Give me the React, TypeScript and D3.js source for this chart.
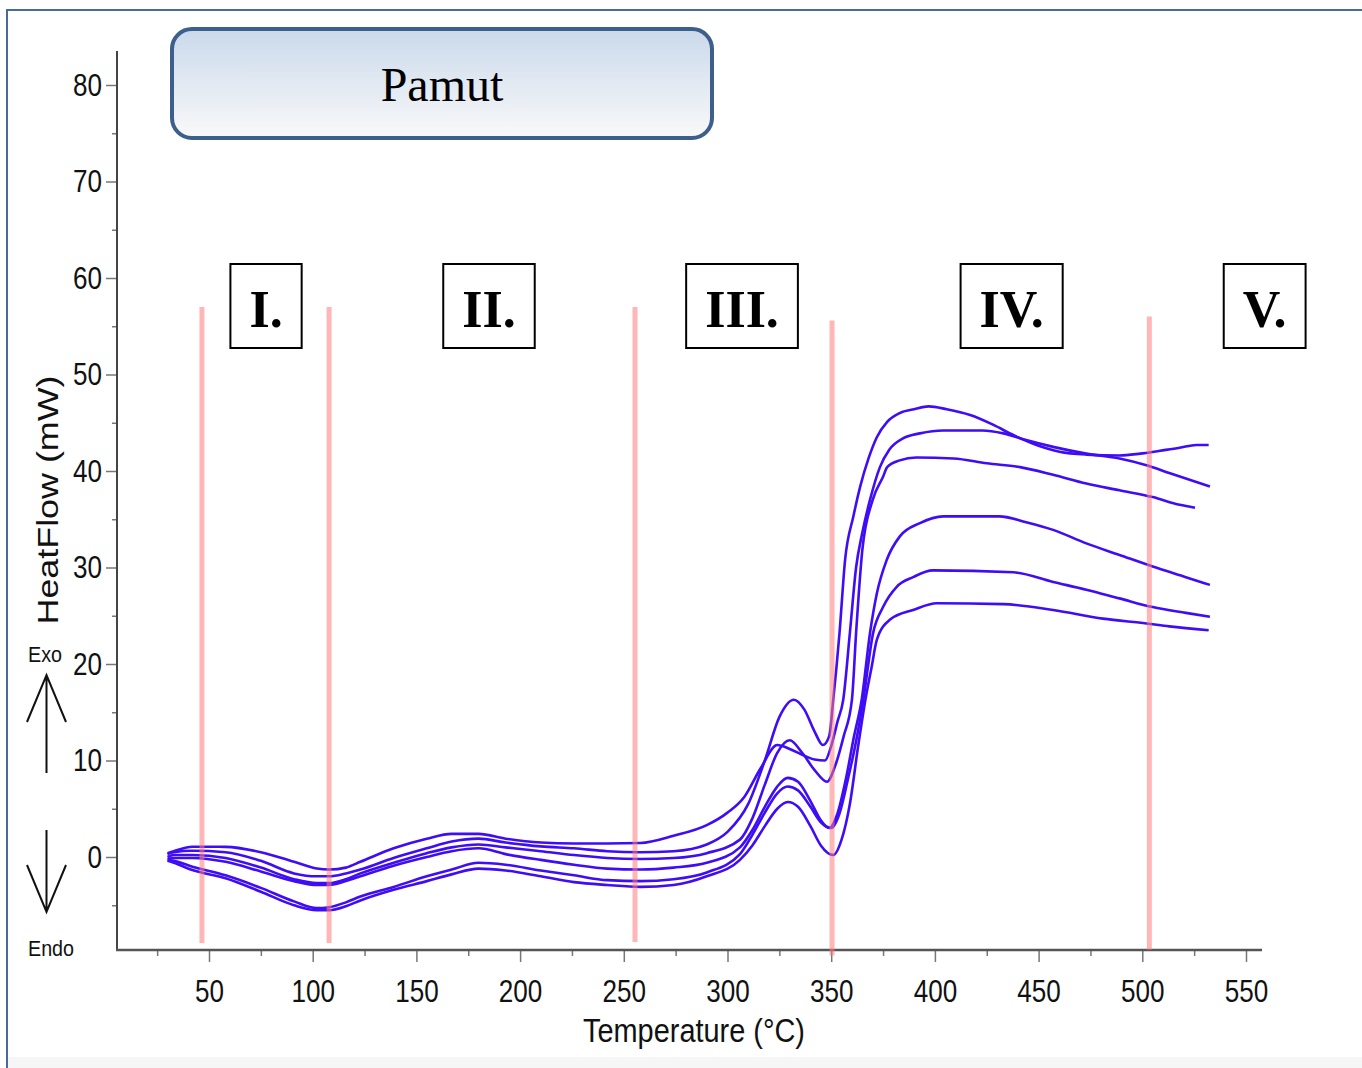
import React, { useEffect, useRef } from "react";
import * as d3 from "d3";

// DSC curves, [temperature °C, heat flow mW]
const curveA = [[30,0.3],[33,0.5],[42,0.65],[58,0.5],[75,-0.4],[91,-1.7],[102,-2.0],[108,-2.0],[116,-1.7],[123,-1.3],[139,-0.1],[155,0.9],[167,1.6],[180,1.9],[193,1.5],[210,1.1],[226,0.9],[242,0.6],[258,0.5],[274,0.6],[290,1.3],[300,2.6],[310,5.5],[318,10.0],[325,14.5],[332,16.3],[337,15.3],[342,13.0],[346,11.6],[349,12.5],[351,16.3],[354,23.2],[356.7,30.8],[360.7,35.3],[364,38.4],[368,41.3],[372,43.5],[377,45.1],[383,46.0],[390,46.4],[397,46.7],[405.7,46.4],[417,45.8],[428,44.8],[438,43.7],[449,42.7],[460,42.0],[473,41.7],[489,41.6],[499,41.8],[508.6,42.1],[518,42.4],[526,42.7],[532,42.7]];
const curveB = [[30,0.4],[33,0.6],[42,1.07],[58,1.05],[75,0.5],[91,-0.5],[102,-1.2],[108,-1.3],[116,-1.1],[123,-0.5],[139,0.9],[155,1.9],[167,2.4],[180,2.4],[193,1.9],[210,1.5],[226,1.4],[242,1.4],[258,1.45],[274,2.2],[290,3.3],[300,4.6],[308,6.2],[316,9.2],[324,11.6],[330,11.2],[336,10.6],[342,10.1],[347,10.0],[350,11.5],[353,14],[355.8,16.3],[359,23.2],[362,30],[365,33.6],[368.7,37],[373.5,40.4],[378,42.2],[384.8,43.4],[392.8,43.9],[404,44.2],[423,44.2],[433,43.9],[444,43.2],[457,42.5],[473,41.8],[489,41.3],[502,40.6],[513,39.8],[532.6,38.4]];
const curveC = [[30,0.0],[33,0.2],[42,0.2],[58,-0.1],[75,-1.1],[91,-2.3],[102,-2.7],[108,-2.7],[116,-2.3],[123,-1.7],[139,-0.6],[155,0.4],[167,1.0],[180,1.3],[193,1.0],[210,0.6],[226,0.2],[242,-0.1],[258,-0.2],[274,-0.1],[290,0.4],[306,1.8],[312,4.0],[318,7.5],[324,10.8],[330,12.1],[336,10.8],[342,9.0],[348,7.8],[352,9.5],[356,12.5],[360,16.3],[362,23.2],[365,31.8],[370,37],[375,39.4],[377,40.4],[383,41.1],[391,41.4],[409,41.3],[425,40.8],[441,40.4],[457,39.6],[473,38.7],[489,38.0],[505,37.3],[518,36.5],[525.4,36.2]];
const curveD = [[30,-0.2],[33,-0.1],[42,-0.1],[58,-0.5],[75,-1.5],[91,-2.5],[102,-2.9],[108,-2.9],[116,-2.5],[123,-2.0],[139,-0.9],[155,0.0],[167,0.6],[180,0.9],[193,0.3],[210,-0.3],[226,-0.8],[242,-1.2],[258,-1.3],[274,-1.1],[290,-0.6],[306,1.0],[312,2.8],[318,5.2],[324,7.3],[329,8.2],[334,7.8],[340,5.8],[345,3.8],[349,3.0],[353,4.5],[357,8.0],[361,12.5],[364.7,16.3],[368.7,23.2],[372,27.3],[376.8,30.8],[383,33.2],[392.8,34.6],[404,35.3],[431,35.3],[444,34.7],[457,33.9],[473,32.5],[489,31.3],[505,30.1],[521,29.0],[532.6,28.2]];
const curveE = [[30,-0.3],[33,-0.4],[42,-1.0],[58,-1.9],[75,-3.2],[91,-4.6],[102,-5.3],[108,-5.2],[116,-4.7],[123,-4.1],[139,-3.1],[155,-2.0],[167,-1.3],[180,-0.6],[193,-0.8],[210,-1.4],[226,-1.9],[242,-2.4],[258,-2.5],[274,-2.3],[290,-1.6],[306,0.3],[312,2.3],[318,4.6],[324,6.6],[329,7.3],[334,6.9],[340,5.2],[345,3.6],[350,3.0],[354,4.5],[358,8.0],[362,12],[365.5,16.3],[370.2,23.2],[375,25.9],[381.6,28.0],[389.5,29.0],[399,29.7],[437.8,29.5],[457,28.5],[473,27.7],[489,26.8],[505,25.9],[521,25.3],[532.6,24.9]];
const curveF = [[30,-0.4],[33,-0.6],[42,-1.35],[58,-2.2],[75,-3.6],[91,-5.0],[102,-5.5],[108,-5.5],[116,-5.1],[123,-4.5],[139,-3.4],[155,-2.5],[167,-1.8],[180,-1.2],[193,-1.4],[210,-2.0],[226,-2.6],[242,-2.9],[258,-3.1],[274,-2.9],[290,-2.0],[306,-0.3],[312,1.2],[318,3.2],[324,5.0],[329,5.7],[334,5.2],[340,3.2],[345,1.2],[351,0.2],[355,1.8],[359,5.5],[363,11.5],[366.5,16.3],[369.5,19.7],[372,22.5],[378.4,24.6],[389.5,25.6],[400.9,26.3],[433,26.2],[457,25.6],[481,24.7],[502,24.2],[513,23.9],[532,23.5]];

const xTicks = [50, 100, 150, 200, 250, 300, 350, 400, 450, 500, 550];
const xMinorTicks = [25, 75, 125, 175, 225, 275, 325, 375, 425, 475, 525];
const yTicks = [0, 10, 20, 30, 40, 50, 60, 70, 80];
const yMinorTicks = [-5, 5, 15, 25, 35, 45, 55, 65, 75];

// stage boundaries (°C) and how far up / down each marker goes (mW)
const boundaryTemps = [46.6, 107.9, 255.4, 350.4, 503.4];
const boundaryTops = [57, 57, 57, 55.6, 56];
const boundaryBottoms = [-8.9, -8.9, -8.8, -10.2, -9.6];

const stageLabels = ["I.", "II.", "III.", "IV.", "V."];
const stageCenters = [77.5, 185, 307, 437, 559];

const title = "Pamut";
const xTitle = "Temperature (°C)";
const yTitle = "HeatFlow (mW)";

const ChartSvg = () => {
  const svgRef = useRef(null);

  useEffect(() => {
    const width = 1362;
    const height = 1068;
    const svg = d3.select(svgRef.current);
    svg.selectAll("*").remove();

    const x = d3.scaleLinear().domain([50, 550]).range([209, 1246]);
    const y = d3.scaleLinear().domain([0, 80]).range([857, 85]);
    const axisFont = "'Liberation Sans', Arial, sans-serif";
    const serif = "'Liberation Serif', 'Times New Roman', serif";

    // outer frame
    svg.append("rect").attr("x", 0).attr("y", 0).attr("width", width).attr("height", height).attr("fill", "#fff");
    svg.append("rect").attr("x", 8).attr("y", 1057).attr("width", width).attr("height", 12).attr("fill", "#f6f6f6");
    svg.append("rect")
      .attr("x", 7).attr("y", 10).attr("width", width + 20).attr("height", height + 20)
      .attr("fill", "none").attr("stroke", "#4a6b98").attr("stroke-width", 2);

    // title box
    const defs = svg.append("defs");
    const grad = defs.append("linearGradient").attr("id", "titleGrad").attr("x1", 0).attr("y1", 0).attr("x2", 0).attr("y2", 1);
    grad.append("stop").attr("offset", "0%").attr("stop-color", "#cad9eb");
    grad.append("stop").attr("offset", "100%").attr("stop-color", "#f9f9f9");
    svg.append("rect")
      .attr("x", 172).attr("y", 29).attr("width", 540).attr("height", 109).attr("rx", 20)
      .attr("fill", "url(#titleGrad)").attr("stroke", "#3d5f8c").attr("stroke-width", 4);
    svg.append("text")
      .attr("x", 442).attr("y", 101).attr("text-anchor", "middle")
      .attr("font-family", serif).attr("font-size", 48).attr("fill", "#000")
      .text(title);

    // y axis: minor then major
    const yMinor = svg.append("g").attr("transform", "translate(117,0)")
      .call(d3.axisLeft(y).tickValues(yMinorTicks).tickSize(5).tickFormat(() => ""));
    const yMajor = svg.append("g").attr("transform", "translate(117,0)")
      .call(d3.axisLeft(y).tickValues(yTicks).tickSize(11).tickPadding(4));
    [yMinor, yMajor].forEach(g => {
      g.select(".domain").remove();
      g.selectAll("line").attr("stroke", "#777").attr("stroke-width", 1.5);
    });
    yMajor.selectAll("text")
      .attr("font-family", axisFont).attr("font-size", 32).attr("fill", "#111")
      .attr("textLength", d => String(d).length * 14.5).attr("lengthAdjust", "spacingAndGlyphs");

    // x axis
    const xMinor = svg.append("g").attr("transform", "translate(0,950)")
      .call(d3.axisBottom(x).tickValues(xMinorTicks).tickSize(6).tickFormat(() => ""));
    const xMajor = svg.append("g").attr("transform", "translate(0,950)")
      .call(d3.axisBottom(x).tickValues(xTicks).tickSize(12).tickPadding(17));
    [xMinor, xMajor].forEach(g => {
      g.select(".domain").remove();
      g.selectAll("line").attr("stroke", "#777").attr("stroke-width", 1.5);
    });
    xMajor.selectAll("text")
      .attr("font-family", axisFont).attr("font-size", 32).attr("fill", "#111")
      .attr("textLength", d => String(d).length * 14.5).attr("lengthAdjust", "spacingAndGlyphs");

    // axis lines
    svg.append("line").attr("x1", 117).attr("x2", 117).attr("y1", 51).attr("y2", 951)
      .attr("stroke", "#444").attr("stroke-width", 2);
    svg.append("line").attr("x1", 116).attr("x2", 1262).attr("y1", 950).attr("y2", 950)
      .attr("stroke", "#555").attr("stroke-width", 2.5);

    // axis titles
    svg.append("text")
      .attr("x", 694).attr("y", 1042).attr("text-anchor", "middle")
      .attr("font-family", axisFont).attr("font-size", 33).attr("fill", "#111")
      .attr("textLength", 222).attr("lengthAdjust", "spacingAndGlyphs")
      .text(xTitle);
    svg.append("text")
      .attr("transform", "translate(58,500) rotate(-90)").attr("text-anchor", "middle")
      .attr("font-family", axisFont).attr("font-size", 30).attr("fill", "#111")
      .attr("textLength", 249).attr("lengthAdjust", "spacingAndGlyphs")
      .text(yTitle);

    // Exo / Endo arrows
    svg.append("text").attr("x", 28).attr("y", 662)
      .attr("font-family", axisFont).attr("font-size", 22).attr("fill", "#111")
      .attr("textLength", 34).attr("lengthAdjust", "spacingAndGlyphs").text("Exo");
    svg.append("text").attr("x", 28).attr("y", 956)
      .attr("font-family", axisFont).attr("font-size", 22).attr("fill", "#111")
      .attr("textLength", 46).attr("lengthAdjust", "spacingAndGlyphs").text("Endo");
    const arrow = svg.append("g").attr("fill", "none").attr("stroke", "#111").attr("stroke-width", 2);
    arrow.append("path").attr("d", "M46.5,773 L46.5,675 M27,722 L46.5,675 L66,722");
    arrow.append("path").attr("d", "M46.5,830 L46.5,912 M27,865 L46.5,912 L66,865");

    // curves
    const line = d3.line()
      .x(d => x(d[0]))
      .y(d => y(d[1]))
      .curve(d3.curveMonotoneX);
    [curveA, curveB, curveC, curveD, curveE, curveF].forEach(c => {
      svg.append("path").datum(c).attr("d", line)
        .attr("fill", "none").attr("stroke", "#3e0cf6").attr("stroke-width", 2.6)
        .attr("stroke-linejoin", "round");
    });

    // stage boundaries
    boundaryTemps.forEach((t, i) => {
      svg.append("line")
        .attr("x1", x(t)).attr("x2", x(t))
        .attr("y1", y(boundaryTops[i])).attr("y2", y(boundaryBottoms[i]))
        .attr("stroke", "#ff7a7a").attr("stroke-opacity", 0.55).attr("stroke-width", 5);
    });

    // stage labels
    stageLabels.forEach((lab, i) => {
      const g = svg.append("g");
      const rect = g.append("rect");
      const txt = g.append("text")
        .attr("x", x(stageCenters[i])).attr("y", 327).attr("text-anchor", "middle")
        .attr("font-family", serif).attr("font-weight", "bold").attr("font-size", 52).attr("fill", "#000")
        .text(lab);
      const w = txt.node().getComputedTextLength() + 38;
      rect.attr("x", x(stageCenters[i]) - w / 2).attr("y", 264).attr("width", w).attr("height", 84)
        .attr("fill", "#fff").attr("stroke", "#000").attr("stroke-width", 2);
    });
  }, []);

  return <svg ref={svgRef} width={1362} height={1068} style={{ position: "absolute", left: 0, top: 0 }} />;
};

const App = () => <ChartSvg />;

export default App;
